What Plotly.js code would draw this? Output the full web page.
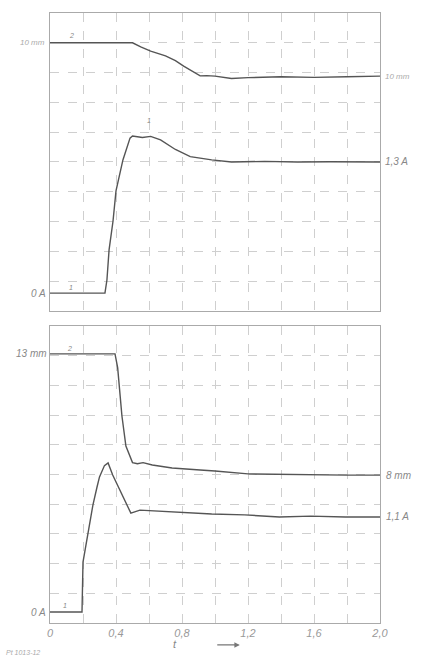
<!DOCTYPE html>
<html><head><meta charset="utf-8">
<script src="https://cdn.plot.ly/plotly-3.0.1.min.js"></script>
<style>html,body{margin:0;padding:0;background:#fff}#chart{width:422px;height:656px}</style>
</head><body><div id="chart"></div>
<script>
// Upper oscillogram (values in grid divisions, time in s)
const upPosT = [0, 0.30, 0.50, 0.55, 0.61, 0.70, 0.76, 0.81, 0.87, 0.91, 0.95, 1.00, 1.10, 1.20, 1.40, 1.60, 1.80, 2.00];
const upPosY = [9.0, 9.0, 9.0, 8.86, 8.72, 8.56, 8.40, 8.22, 8.02, 7.89, 7.90, 7.88, 7.80, 7.83, 7.86, 7.84, 7.86, 7.88];
const upCurT = [0, 0.20, 0.333, 0.345, 0.358, 0.382, 0.40, 0.442, 0.485, 0.50, 0.56, 0.61, 0.67, 0.76, 0.85, 0.98, 1.10, 1.30, 1.50, 1.70, 2.00];
const upCurY = [0.6, 0.6, 0.6, 1.04, 2.05, 3.02, 4.03, 5.07, 5.80, 5.87, 5.82, 5.86, 5.74, 5.42, 5.18, 5.07, 5.0, 5.02, 5.0, 5.01, 5.0];
// Lower oscillogram
const loPosT = [0, 0.20, 0.394, 0.41, 0.418, 0.436, 0.46, 0.50, 0.53, 0.564, 0.62, 0.74, 0.91, 1.0, 1.2, 1.4, 1.6, 1.8, 2.0];
const loPosY = [9.06, 9.06, 9.06, 8.6, 8.0, 6.97, 5.96, 5.40, 5.36, 5.40, 5.32, 5.22, 5.15, 5.12, 5.02, 5.0, 4.98, 4.98, 4.98];
const loCurT = [0, 0.10, 0.194, 0.20, 0.23, 0.26, 0.285, 0.30, 0.33, 0.352, 0.38, 0.424, 0.49, 0.545, 0.73, 0.98, 1.18, 1.39, 1.58, 1.79, 2.0];
const loCurY = [0.37, 0.37, 0.37, 2.05, 3.0, 3.97, 4.58, 4.92, 5.3, 5.39, 4.98, 4.48, 3.70, 3.80, 3.74, 3.67, 3.64, 3.57, 3.60, 3.57, 3.57];
// Axis ticks
const tickVals = [0, 0.2, 0.4, 0.6, 0.8, 1.0, 1.2, 1.4, 1.6, 1.8, 2.0];
const tickText = ["0", "", "0,4", "", "0,8", "", "1,2", "", "1,6", "", "2,0"];
const gridY = [0,1,2,3,4,5,6,7,8,9,10];

const lineStyle = {color: '#555', width: 1.4};
const traces = [
  {x: upPosT, y: upPosY, xaxis: 'x', yaxis: 'y', mode: 'lines', line: lineStyle},
  {x: upCurT, y: upCurY, xaxis: 'x', yaxis: 'y', mode: 'lines', line: lineStyle},
  {x: loPosT, y: loPosY, xaxis: 'x2', yaxis: 'y2', mode: 'lines', line: lineStyle},
  {x: loCurT, y: loCurY, xaxis: 'x2', yaxis: 'y2', mode: 'lines', line: lineStyle}
];

const lblFont = {family: 'Liberation Sans, Arial, sans-serif', size: 10, color: '#888', style: 'italic'};
const xCommon = {range: [0, 2.0], tickvals: tickVals, showgrid: true, gridcolor: '#cfcfcf', griddash: 'dash', gridwidth: 1,
  showline: true, mirror: true, linecolor: '#aaa', linewidth: 1, zeroline: false, ticks: '', fixedrange: true};
const yCommon = {range: [0, 10], tickvals: gridY, showticklabels: false, showgrid: true, gridcolor: '#cfcfcf', griddash: 'dash',
  showline: true, mirror: true, linecolor: '#aaa', linewidth: 1, zeroline: false, ticks: ''};

function lab(text, xr, x, yref, y, anchor, extra) {
  return Object.assign({text: text, xref: xr, x: x, yref: yref, y: y, xanchor: anchor, yanchor: 'middle', showarrow: false, font: lblFont}, extra || {});
}

const annotations = [
  lab('10 mm', 'paper', 0, 'y', 9.0, 'right', {xshift: -3, font: Object.assign({}, lblFont, {size: 8, color: '#aaa'})}),
  lab('0 A', 'paper', 0, 'y', 0.6, 'right', {xshift: -2}),
  lab('10 mm', 'paper', 1, 'y', 7.88, 'left', {xshift: 3, font: Object.assign({}, lblFont, {size: 8, color: '#aaa'})}),
  lab('1,3 A', 'paper', 1, 'y', 5.0, 'left', {xshift: 3}),
  lab('13 mm', 'paper', 0, 'y2', 9.06, 'right', {xshift: -1}),
  lab('0 A', 'paper', 0, 'y2', 0.37, 'right', {xshift: -2}),
  lab('8 mm', 'paper', 1, 'y2', 4.98, 'left', {xshift: 4}),
  lab('1,1 A', 'paper', 1, 'y2', 3.57, 'left', {xshift: 4}),
  lab('2', 'x', 0.13, 'y', 9.25, 'center', {font: Object.assign({}, lblFont, {size: 7})}),
  lab('1', 'x', 0.13, 'y', 0.8, 'center', {font: Object.assign({}, lblFont, {size: 7})}),
  lab('1', 'x', 0.6, 'y', 6.4, 'center', {font: Object.assign({}, lblFont, {size: 7})}),
  lab('2', 'x2', 0.12, 'y2', 9.25, 'center', {font: Object.assign({}, lblFont, {size: 7})}),
  lab('1', 'x2', 0.09, 'y2', 0.6, 'center', {font: Object.assign({}, lblFont, {size: 7})}),
  lab('t', 'paper', 0.38, 'paper', -0.035, 'center', {font: Object.assign({}, lblFont, {size: 11})}),
  {text: '', xref: 'x2', x: 1.15, yref: 'paper', y: -0.036, ax: -24, ay: 0, axref: 'pixel', ayref: 'pixel', showarrow: true,
    arrowhead: 2, arrowsize: 0.9, arrowwidth: 1.2, arrowcolor: '#777'},
  lab('Pt 1013-12', 'paper', -0.14, 'paper', -0.048, 'left', {font: Object.assign({}, lblFont, {size: 7, color: '#aaa'})})
];

const layout = {
  width: 422, height: 656,
  margin: {l: 50, r: 42, t: 13, b: 33},
  paper_bgcolor: '#fff', plot_bgcolor: '#fff',
  showlegend: false,
  xaxis: Object.assign({}, xCommon, {anchor: 'y', showticklabels: false}),
  yaxis: Object.assign({}, yCommon, {domain: [0.5115, 1.0], anchor: 'x'}),
  xaxis2: Object.assign({}, xCommon, {anchor: 'y2', ticktext: tickText, showticklabels: true,
    tickfont: {family: 'Liberation Sans, Arial, sans-serif', size: 11, color: '#999', style: 'italic'}}),
  yaxis2: Object.assign({}, yCommon, {domain: [0, 0.4869], anchor: 'x2'}),
  annotations: annotations
};

Plotly.newPlot('chart', traces, layout, {staticPlot: true, displayModeBar: false});
</script>
</body></html>
